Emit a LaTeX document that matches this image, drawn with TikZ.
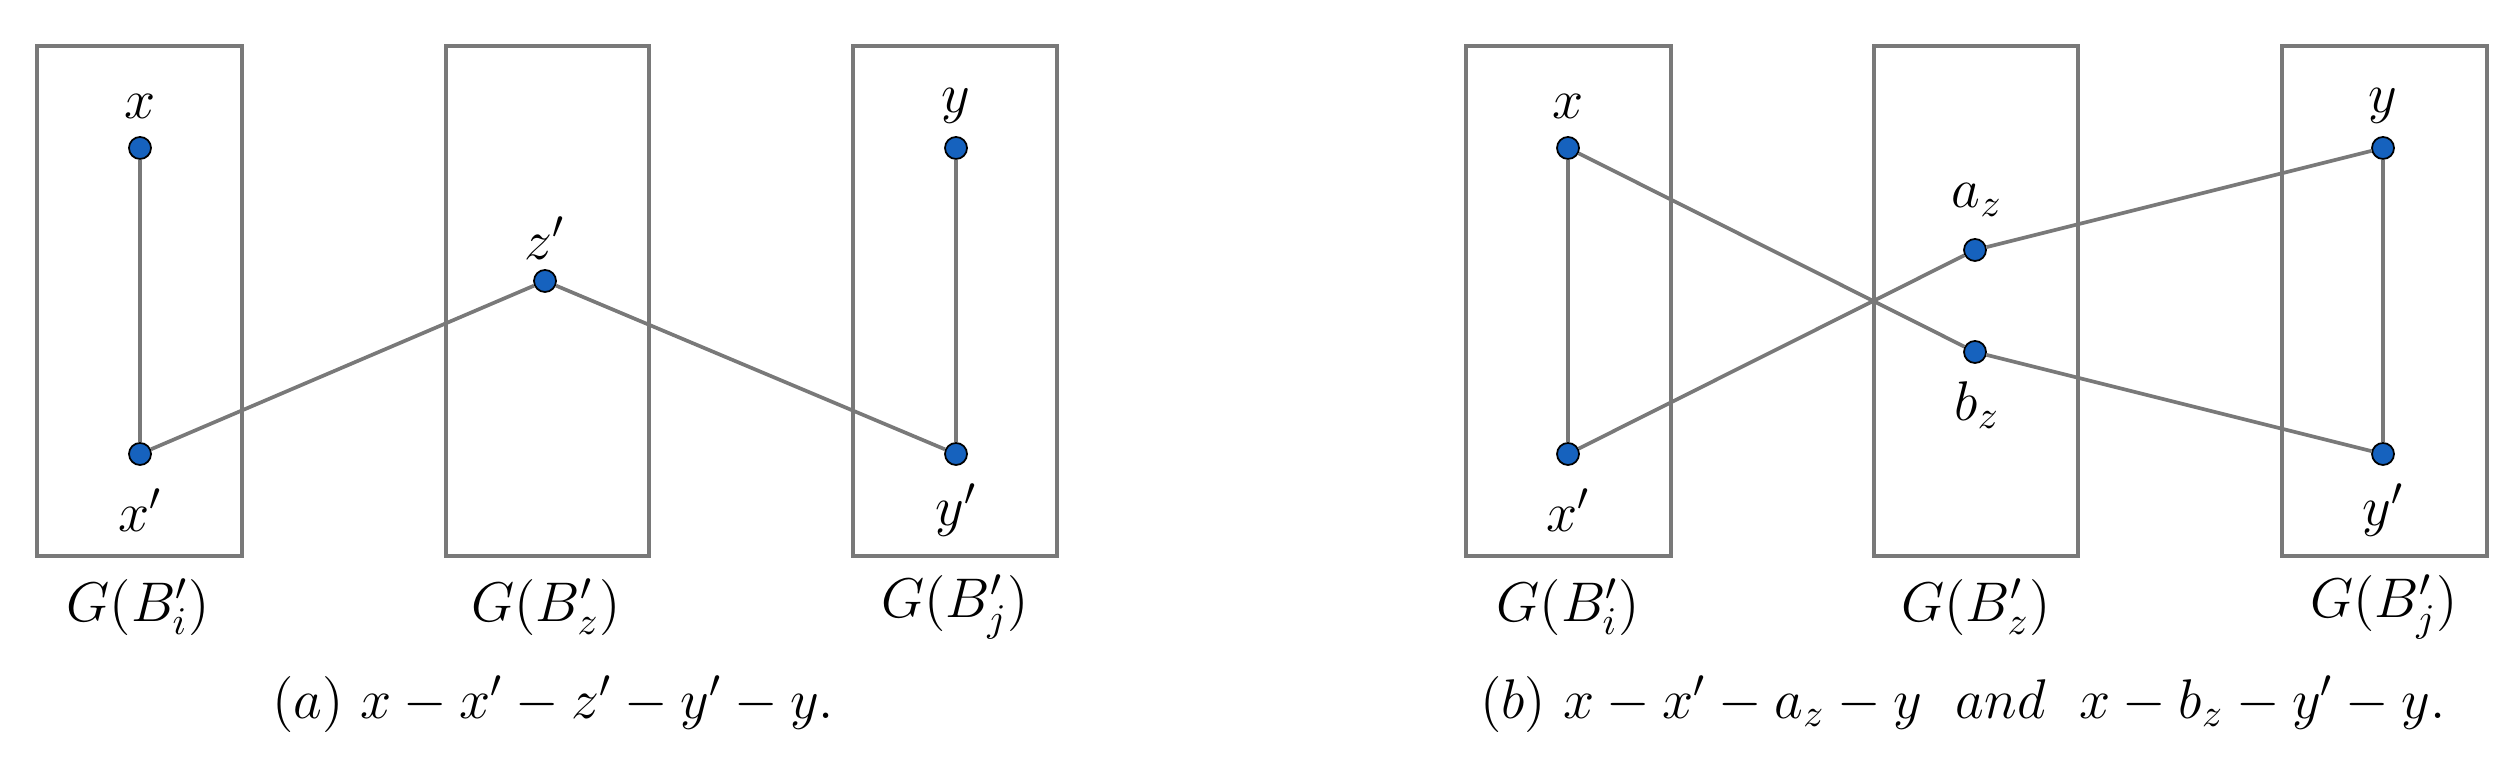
\RequirePackage{fix-cm}
\documentclass[tikz,border=0pt]{standalone}
\begin{document}
\begin{tikzpicture}[x=0.01cm,y=-0.01cm,
  box/.style={draw=gray!95!black,line width=1.3pt},
  edge/.style={draw=gray!95!black,line width=1.05pt},
  dot/.style={circle,draw=black,line width=0.5pt,fill={rgb,255:red,22;green,98;blue,190},inner sep=0pt,minimum size=0.22cm},
  lbl/.style={inner sep=0pt,font=\fontsize{15.9}{19}\selectfont}]
\useasboundingbox (0,0) rectangle (2514,768);
% (a)
\draw[box] (37,46) rectangle (242,556);
\draw[box] (446,46) rectangle (649,556);
\draw[box] (853,46) rectangle (1057,556);
\node[dot] (ax) at (140,148) {};
\node[dot] (axp) at (140,454) {};
\node[dot] (azp) at (545,281) {};
\node[dot] (ay) at (956,148) {};
\node[dot] (ayp) at (956,454) {};
\draw[edge] (ax) -- (axp) -- (azp) -- (ayp) -- (ay);
\node[lbl] (lax) at (140,106) {$x$};
\node[lbl] (laxp) at (140,510) {$x'$};
\node[lbl] (lazp) at (545,238) {$z'$};
\node[lbl] (lay) at (956,106) {$y$};
\node[lbl] (layp) at (956,510) {$y'$};
\node[lbl] (gai) at (138,607) {$G(B'_i)$};
\node[lbl] (gaz) at (546,607) {$G(B'_z)$};
\node[lbl] (gaj) at (955,607) {$G(B'_j)$};
\node[lbl] (capa) at (553,704) {$(a)\ x-x'-z'-y'-y.$};
% (b)
\draw[box] (1466,46) rectangle (1671,556);
\draw[box] (1874,46) rectangle (2078,556);
\draw[box] (2282,46) rectangle (2487,556);
\node[dot] (bx) at (1568,148) {};
\node[dot] (bxp) at (1568,454) {};
\node[dot] (baz) at (1975,250) {};
\node[dot] (bbz) at (1975,352) {};
\node[dot] (by) at (2383,148) {};
\node[dot] (byp) at (2383,454) {};
\draw[edge] (bx) -- (bxp) -- (baz) -- (by) -- (byp) -- (bbz) -- (bx);
\node[lbl] (lbx) at (1568,106) {$x$};
\node[lbl] (lbxp) at (1568,510) {$x'$};
\node[lbl] (lbaz) at (1977,200) {$a_z$};
\node[lbl] (lbbz) at (1977,405) {$b_z$};
\node[lbl] (lby) at (2383,106) {$y$};
\node[lbl] (lbyp) at (2383,510) {$y'$};
\node[lbl] (gbi) at (1568,607) {$G(B'_i)$};
\node[lbl] (gbz) at (1976,607) {$G(B'_z)$};
\node[lbl] (gbj) at (2384,607) {$G(B'_j)$};
\node[lbl] (capb) at (1963,704) {$(b)\ x-x'-a_z-y\ \ and\ \ x-b_z-y'-y.$};
\end{tikzpicture}
\end{document}
